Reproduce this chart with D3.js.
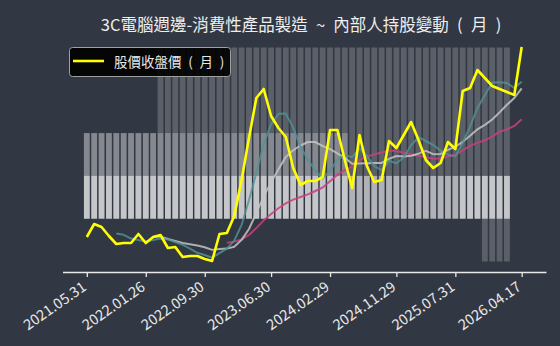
<!DOCTYPE html>
<html><head><meta charset="utf-8">
<script src="https://cdn.jsdelivr.net/npm/d3@7"></script>
<style>body{margin:0;background:#323843;} svg{display:block}</style>
</head><body><svg id="c" width="560" height="346"></svg>
<script>
const dates = ["2021.05.31","2021.06.30","2021.07.30","2021.08.31","2021.09.30","2021.10.29","2021.11.30","2021.12.30",
"2022.01.26","2022.02.25","2022.03.31","2022.04.29","2022.05.31","2022.06.30","2022.07.29","2022.08.31",
"2022.09.30","2022.10.31","2022.11.30","2022.12.30","2023.01.31","2023.02.24","2023.03.31","2023.04.28","2023.05.31",
"2023.06.30","2023.07.31","2023.08.31","2023.09.28","2023.10.31","2023.11.30","2023.12.29","2024.01.31",
"2024.02.29","2024.03.29","2024.04.30","2024.05.31","2024.06.28","2024.07.31","2024.08.30","2024.09.30","2024.10.30",
"2024.11.29","2024.12.31","2025.01.22","2025.02.27","2025.03.31","2025.04.30","2025.05.30","2025.06.30",
"2025.07.31","2025.08.29","2025.09.30","2025.10.31","2025.11.28","2025.12.31","2026.01.30","2026.02.26","2026.03.31",
"2026.04.17"];
const tickLabels = ["2021.05.31","2022.01.26","2022.09.30","2023.06.30","2024.02.29","2024.11.29","2025.07.31","2026.04.17"];

const closePrice = [20.75,24,23.25,21,19,19.25,19.25,21.5,19.25,20.75,21.25,18,18.25,15.75,16,16,15.25,14.75,21.5,21.75,
26,35,45.5,55.5,57.75,51,48,45.75,38,33.75,34.75,34.75,35.75,47.5,47.5,40,33,46.25,38.5,34.5,
35,44.75,43,46.25,49.5,45,40,38,39.25,44.5,42.75,57.25,58,62.5,60.5,58.5,57.75,57,56.25,68.25];

const ma5 = [null,null,null,null,21.6,21.3,20.35,20.0,19.65,20.0,20.4,20.15,19.5,18.8,17.85,16.8,16.25,15.55,16.7,17.85,
19.85,23.8,29.95,36.75,43.95,48.95,51.55,51.6,48.1,43.3,40.05,37.4,35.4,37.3,40.05,41.1,40.75,42.85,41.05,38.45,
37.45,39.8,39.15,40.7,43.7,45.7,44.75,43.75,42.35,41.35,40.9,44.35,48.35,53.0,56.2,59.35,59.45,59.25,58.0,59.55];

const ma10 = [null,null,null,null,null,null,null,null,null,20.8,20.85,20.25,19.75,19.23,18.93,18.6,18.2,17.53,17.75,17.85,
18.33,20.03,22.75,26.73,30.9,34.4,37.68,40.78,42.43,43.63,44.5,44.48,43.5,42.7,41.68,40.58,39.08,39.13,39.18,39.25,
39.28,40.28,41.0,40.88,41.08,41.58,42.28,41.45,41.53,42.53,43.3,44.55,46.05,47.68,48.78,50.13,51.9,53.8,55.5,57.88];

const ma20 = [null,null,null,null,null,null,null,null,null,null,null,null,null,null,null,null,null,null,null,19.33,
19.59,20.14,21.25,22.98,24.91,26.5,27.94,29.15,30.09,30.74,31.41,32.25,33.13,34.71,36.29,37.49,38.38,39.95,40.8,41.44,
41.89,42.38,42.25,41.79,41.38,41.08,40.68,40.29,40.35,40.89,41.29,42.41,43.53,44.28,44.93,45.85,47.09,47.63,48.51,50.2];

// insider holding change bars (monthly, through 2026.02)
const holdA = [1,1,1,1,1,1,1,1,1,1,1,1,1,1,1,1,1,1,1,1,1,1,1,1,1,1,1,1,1,1,1,1,1,1,1,1,1,1,1,1,1,1,1,1,1,1,1,1,1,1,1,1,1,1,1,1,1,1];
const holdB = [2,2,2,2,2,2,2,2,2,2,2,2,2,2,2,2,2,2,2,2,2,2,2,2,2,2,2,2,2,2,2,2,2,2,2,2,0,0,0,0,0,0,0,0,0,0,0,0,0,0,0,1,1,1,1,1,1,1];
const holdC = [2,2,2,2,2,2,2,2,2,2,4,4,4,4,4,4,4,4,4,4,4,4,4,4,4,4,4,4,4,4,4,4,4,4,4,4,4,4,4,4,4,4,4,4,4,4,4,4,4,4,4,4,4,4,4,4,4,4];
const holdD = [0,0,0,0,0,0,0,0,0,0,0,0,0,0,0,0,0,0,0,0,0,0,0,0,0,0,0,0,0,0,0,0,0,0,0,0,0,0,0,0,0,0,0,0,0,0,0,0,0,0,0,0,0,0,-1,-1,-1,-1];

const svg = d3.select("#c");
const font = "'Noto Sans CJK TC','Noto Sans',sans-serif";

const x = d3.scalePoint().domain(dates).range([62.5, 546]).padding(3.3);
const yP = d3.scaleLinear().domain([10, 70]).range([280, 40]);
const yB = d3.scaleLinear().domain([-1, 4]).range([261.5, 47.5]);
const bw = 5.8;

const barSeries = [
  {data: holdA, op: 0.52},
  {data: holdB, op: 0.26},
  {data: holdC, op: 0.2},
  {data: holdD, op: 0.2}
];
const gb = svg.append("g");
barSeries.forEach(s => {
  gb.selectAll(null).data(s.data.map((v, i) => ({v, d: dates[i]})).filter(o => o.v !== 0))
    .join("rect")
    .attr("x", o => x(o.d) - bw / 2)
    .attr("width", bw)
    .attr("y", o => Math.min(yB(o.v), yB(0)))
    .attr("height", o => Math.abs(yB(o.v) - yB(0)))
    .attr("fill", "#ffffff")
    .attr("fill-opacity", s.op);
});

const lineGen = arr => d3.line()
  .defined((v) => v !== null)
  .x((v, i) => x(dates[i]))
  .y(v => yP(v))(arr);

const lines = [
  {data: ma20, color: "#c8407f", w: 2, op: 0.85},
  {data: ma10, color: "#c4c4c4", w: 2, op: 0.85},
  {data: ma5, color: "#4f9496", w: 2, op: 0.8},
  {data: closePrice, color: "#ffff00", w: 2.6, op: 1}
];
lines.forEach(l => {
  svg.append("path").attr("d", lineGen(l.data))
    .attr("fill", "none").attr("stroke", l.color).attr("stroke-width", l.w)
    .attr("stroke-opacity", l.op).attr("stroke-linejoin", "round");
});

// axis
const ax = svg.append("g").attr("transform", "translate(0,272)")
  .call(d3.axisBottom(x).tickValues(tickLabels).tickSize(5).tickSizeOuter(0));
ax.select(".domain").attr("stroke", "#e8e8e8").attr("stroke-width", 1.3);
ax.selectAll(".tick line").attr("stroke", "#e8e8e8").attr("stroke-width", 1.3);
ax.selectAll(".tick text")
  .attr("fill", "#e8e8e8").attr("font-family", font).attr("font-size", 14.5)
  .attr("text-anchor", "end").attr("x", 0).attr("y", 0).attr("dy", "0.35em")
  .attr("transform", "translate(-3,13) rotate(-35)");

// title
svg.append("text").attr("x", 301).attr("y", 31).attr("text-anchor", "middle")
  .attr("fill", "#eeeeee").attr("font-family", font).attr("font-size", 16.5)
  .style("white-space", "pre")
  .text("3C電腦週邊-消費性產品製造\u2002~\u2002內部人持股變動\u2002(\u2002月\u2002)");

// legend
const lg = svg.append("g");
lg.append("rect").attr("x", 69.5).attr("y", 47.5).attr("width", 161).attr("height", 29).attr("rx", 3)
  .attr("fill", "#000000").attr("fill-opacity", 0.9).attr("stroke", "#a0a0a0").attr("stroke-width", 1);
lg.append("line").attr("x1", 73).attr("x2", 104).attr("y1", 61).attr("y2", 61)
  .attr("stroke", "#ffff00").attr("stroke-width", 2.6);
lg.append("text").attr("x", 114).attr("y", 66.5).attr("fill", "#e8e8e8")
  .attr("font-family", font).attr("font-size", 13.5).style("white-space", "pre")
  .text("股價收盤價\u2002(\u2002月\u2002)");
</script></body></html>
